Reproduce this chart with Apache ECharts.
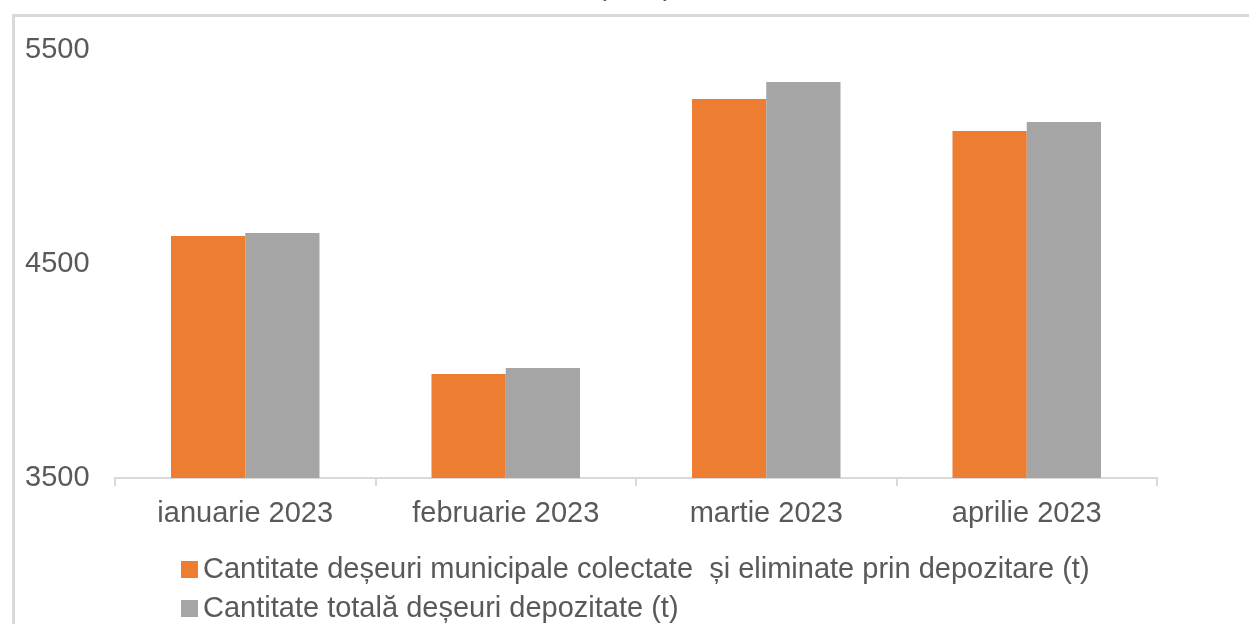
<!DOCTYPE html>
<html><head><meta charset="utf-8">
<script src="https://cdn.jsdelivr.net/npm/echarts@6/dist/echarts.min.js"></script>
<style>html,body{margin:0;padding:0;background:#fff}#c{width:1249px;height:624px}</style>
</head><body><div id="c"></div>
<script>
const categories = ['ianuarie 2023', 'februarie 2023', 'martie 2023', 'aprilie 2023'];
const seriesNames = ['Cantitate deșeuri municipale colectate  și eliminate prin depozitare (t)', 'Cantitate totală deșeuri depozitate (t)'];
const colectate = [4631, 3986, 5271, 5121];
const totala = [4645, 4014, 5350, 5164];
const yTicks = [3500, 4500, 5500];
const titleText = '(tone)';

const font = 'Liberation Sans, Arial, sans-serif';
const legendBase = {
  orient: 'horizontal', left: 181, itemWidth: 17, itemHeight: 17, padding: 0,
  icon: 'rect',
  textStyle: { fontFamily: font, fontSize: 29, color: '#595959' }
};
const chart = echarts.init(document.getElementById('c'));
chart.setOption({
  animation: false,
  backgroundColor: '#fff',
  graphic: [{
    type: 'rect', left: 11, top: 13, silent: true,
    shape: { x: 0, y: 0, width: 1300, height: 700 },
    style: { fill: 'none', stroke: '#d9d9d9', lineWidth: 3 }
  }],
  title: {
    text: titleText, left: 597, top: -28, padding: 0,
    textStyle: { fontFamily: font, fontSize: 29, fontWeight: 'normal', color: '#595959' }
  },
  grid: { left: 115, right: 92, top: 50, bottom: 146, containLabel: false },
  legend: [
    Object.assign({}, legendBase, { top: 555, data: [seriesNames[0]] }),
    Object.assign({}, legendBase, { top: 594, data: [seriesNames[1]] })
  ],
  xAxis: {
    type: 'category', data: categories, boundaryGap: true,
    axisLine: { show: true, lineStyle: { color: '#d9d9d9', width: 2 } },
    axisTick: { show: true, length: 8, lineStyle: { color: '#d9d9d9', width: 2 } },
    axisLabel: { fontFamily: font, fontSize: 29, color: '#595959', margin: 21 }
  },
  yAxis: {
    type: 'value', min: yTicks[0], max: yTicks[yTicks.length-1], interval: yTicks[1]-yTicks[0],
    axisLine: { show: false }, axisTick: { show: false }, splitLine: { show: false },
    axisLabel: { fontFamily: font, fontSize: 29, color: '#595959', align: 'left', margin: 90,
      formatter: v => String(v) }
  },
  series: [
    { name: seriesNames[0], type: 'bar', data: colectate, barGap: '0%', barCategoryGap: '43%',
      itemStyle: { color: '#ED7D31' } },
    { name: seriesNames[1], type: 'bar', data: totala, barGap: '0%', barCategoryGap: '43%',
      itemStyle: { color: '#A5A5A5' } }
  ]
});
</script></body></html>
